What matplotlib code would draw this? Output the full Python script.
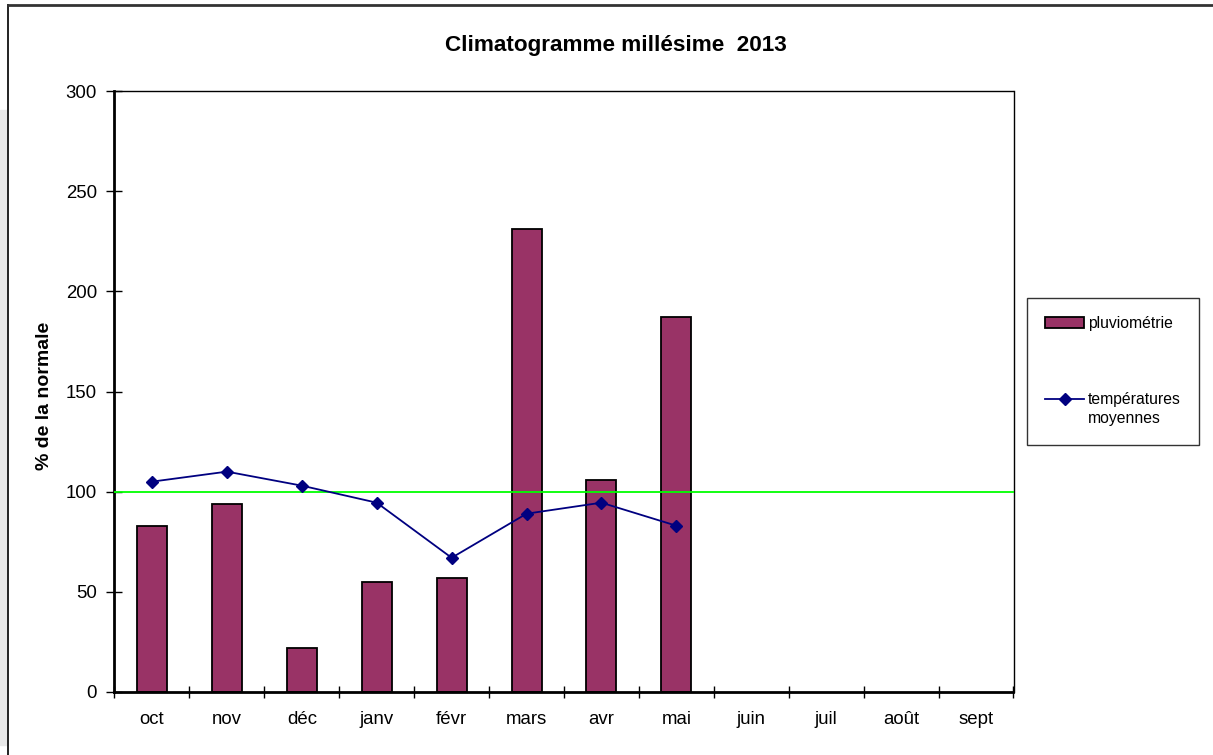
import matplotlib
matplotlib.use("Agg")
import matplotlib.pyplot as plt
from matplotlib.legend_handler import HandlerLine2D
from matplotlib.lines import Line2D
from matplotlib.patches import Rectangle
import numpy as np

plt.rcParams['font.family'] = ['Liberation Sans', 'DejaVu Sans']

months = ['oct', 'nov', 'déc', 'janv', 'févr', 'mars', 'avr', 'mai',
          'juin', 'juil', 'août', 'sept']
pluvio = [83, 94, 22, 55, 57, 231, 106, 187]
temp = [105, 110, 103, 94.5, 67, 89, 94.5, 83]
normale = 100
yticks = [0, 50, 100, 150, 200, 250, 300]

LEG_LINESPACING = 1.35


class UpperLineHandler(HandlerLine2D):
    # put the line next to the first line of a two-line label
    def create_artists(self, legend, orig_handle, xdescent, ydescent,
                       width, height, fontsize, trans):
        artists = super().create_artists(legend, orig_handle, xdescent, ydescent,
                                         width, height, fontsize, trans)
        for a in artists:
            a.set_ydata(np.asarray(a.get_ydata()) + 0.5 * LEG_LINESPACING * fontsize)
        return artists


W, H = 1213, 755
fig = plt.figure(figsize=(W / 100, H / 100), dpi=100)
ax = fig.add_axes([114.5 / W, 1 - 692 / H, 899 / W, 601 / H])

x = np.arange(len(months))
bars = ax.bar(x[:len(pluvio)], pluvio, width=0.4, color='#993366', edgecolor='black',
              linewidth=1.3, label='pluviométrie', zorder=2)
line, = ax.plot(x[:len(temp)], temp, color='#000080', lw=1.3, marker='D', ms=6.5,
                label='températures\nmoyennes', zorder=4)
ax.axhline(normale, color='#00ff00', lw=1.3, zorder=3)

ax.set_xlim(-0.5, len(months) - 0.5)
ax.set_ylim(0, 300)
ax.set_yticks(yticks)
ax.set_xticks(x)
ax.set_xticklabels(months)
ax.set_xticks(np.arange(-0.5, len(months), 1), minor=True)
ax.tick_params(axis='x', which='major', length=0, pad=14, labelsize=13.4)
ax.tick_params(axis='x', which='minor', direction='inout', length=9, width=1)
ax.tick_params(axis='y', direction='inout', length=11, width=1, pad=7, labelsize=13.4)

for side in ['left', 'bottom']:
    ax.spines[side].set_linewidth(2)
for side in ['top', 'right']:
    ax.spines[side].set_linewidth(1)

fig.text(615.5 / W, 1 - 45 / H, 'Climatogramme millésime  2013',
         ha='center', va='center', fontsize=16.2, fontweight='bold')
fig.text(45 / W, 1 - 396 / H, '% de la normale', rotation=90,
         ha='center', va='center', fontsize=14, fontweight='bold')

leg = fig.legend([bars, line], ['pluviométrie', 'températures\nmoyennes'],
                 loc='upper left',
                 bbox_to_anchor=(1027 / W, 1 - 298 / H), borderaxespad=0,
                 fontsize=11.3, handlelength=2.5, handleheight=0.65,
                 handletextpad=0.25, borderpad=1.15, labelspacing=3.9,
                 fancybox=False, frameon=True,
                 handler_map={line: UpperLineHandler()})
for t in leg.get_texts():
    t.set_linespacing(LEG_LINESPACING)
leg.get_frame().set_edgecolor('black')
leg.get_frame().set_linewidth(1.0)

# screenshot border and grey background on the left
fig.patches.append(Rectangle((0, 1 - 745 / H), 7 / W, 635 / H,
                             transform=fig.transFigure, color='#e8e8e8', zorder=0))
fig.add_artist(Line2D([8 / W, 8 / W], [0, 1 - 5 / H], transform=fig.transFigure,
                      color='#222222', lw=1.4))
fig.add_artist(Line2D([8 / W, 1], [1 - 5 / H, 1 - 5 / H], transform=fig.transFigure,
                      color='#333333', lw=2))

fig.savefig('out.png', dpi=100)
